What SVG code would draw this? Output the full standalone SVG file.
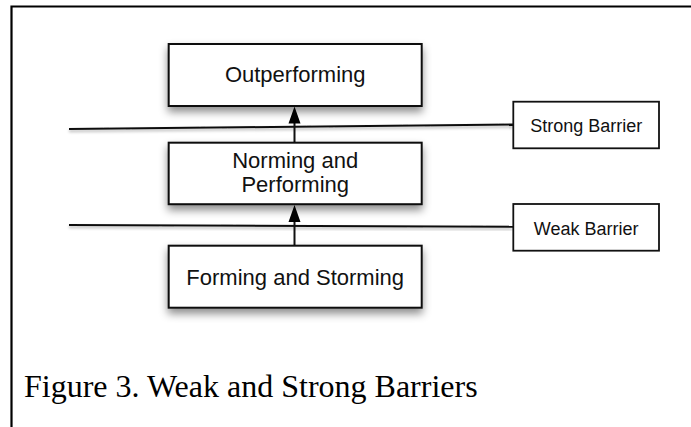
<svg xmlns="http://www.w3.org/2000/svg" width="691" height="427" viewBox="0 0 691 427">
<defs>
<filter id="sh" x="-20%" y="-30%" width="140%" height="170%">
<feDropShadow dx="0" dy="5" stdDeviation="4" flood-color="#000" flood-opacity="0.45"/>
</filter>
<filter id="lsh" x="-5%" y="-200%" width="110%" height="500%">
<feDropShadow dx="0" dy="2" stdDeviation="1.5" flood-color="#000" flood-opacity="0.3"/>
</filter>
</defs>
<style>
.box{fill:#fff;stroke:#111;stroke-width:2}
.bbox{fill:#fff;stroke:#111;stroke-width:1.8}
.t{font-family:"Liberation Sans",Arial,sans-serif;font-size:22px;fill:#111;text-anchor:middle}
.tb{font-family:"Liberation Sans",Arial,sans-serif;font-size:18px;fill:#111;text-anchor:middle}
.cap{font-family:"Liberation Serif","Times New Roman",serif;font-size:32px;fill:#000}
.ln{stroke:#111;stroke-width:2;fill:none}
.ah{fill:#000}
</style>
<rect width="691" height="427" fill="#fff"/>
<path d="M11.5,427 L11.5,6.5 L691,6.5" fill="none" stroke="#000" stroke-width="2.2"/>

<g id="connectors">
<line class="ln" x1="69" y1="129" x2="513" y2="124.5" filter="url(#lsh)"/>
<line class="ln" x1="69" y1="225" x2="513" y2="226.7" filter="url(#lsh)"/>
<line class="ln" x1="294.5" y1="142.7" x2="294.5" y2="120"/>
<polygon class="ah" points="294.5,106.5 288.5,123.5 300.5,123.5"/>
<line class="ln" x1="294.5" y1="245.7" x2="294.5" y2="218"/>
<polygon class="ah" points="294.5,205 288.5,222 300.5,222"/>
</g>

<g id="outperforming">
<rect class="box" x="168.7" y="44" width="253" height="62" filter="url(#sh)"/>
<text class="t" x="295.2" y="82">Outperforming</text>
</g>
<g id="norming">
<rect class="box" x="168.7" y="142.7" width="253" height="61.5" filter="url(#sh)"/>
<text class="t" x="295.2" y="168">Norming and</text>
<text class="t" x="295.2" y="192">Performing</text>
</g>
<g id="forming">
<rect class="box" x="168.7" y="245.7" width="253" height="62" filter="url(#sh)"/>
<text class="t" x="295.2" y="284.5">Forming and Storming</text>
</g>
<g id="strong-barrier">
<rect class="bbox" x="513.3" y="101.7" width="145.7" height="46.6"/>
<text class="tb" x="586.2" y="131.5">Strong Barrier</text>
</g>
<g id="weak-barrier">
<rect class="bbox" x="513.3" y="204" width="145.7" height="46.7"/>
<text class="tb" x="586.2" y="234.5">Weak Barrier</text>
</g>
<text class="cap" x="24" y="397">Figure 3. Weak and Strong Barriers</text>
</svg>
